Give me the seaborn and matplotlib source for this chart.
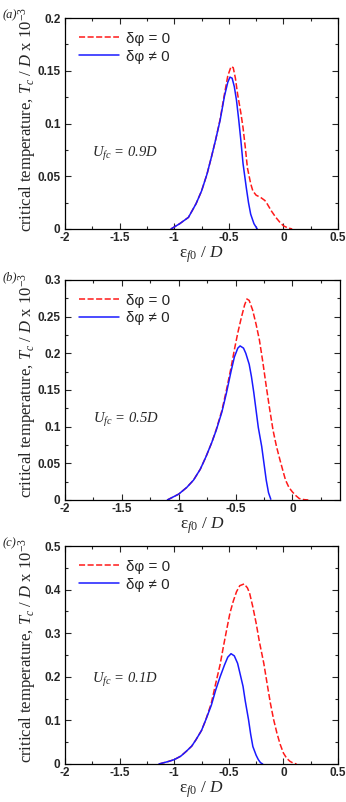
import pandas as pd
import seaborn as sns
import matplotlib.pyplot as plt
from matplotlib.ticker import MultipleLocator

# --- data (eps_f0 / D , Tc / D x 1e-3) ---
# panel (a), U_fc = 0.9D
a_blue_x = [-1.03, -0.95, -0.87, -0.80, -0.75, -0.70, -0.66, -0.62, -0.58, -0.54, -0.51, -0.49,
            -0.47, -0.45, -0.43, -0.41, -0.39, -0.37, -0.34, -0.32, -0.30, -0.27, -0.24]
a_blue_y = [0.0, 0.005, 0.011, 0.024, 0.036, 0.052, 0.068, 0.085, 0.103, 0.126, 0.139, 0.144,
            0.143, 0.135, 0.122, 0.104, 0.084, 0.062, 0.039, 0.025, 0.014, 0.005, 0.0]
a_red_x = [-1.03, -0.95, -0.87, -0.80, -0.75, -0.70, -0.66, -0.62, -0.58, -0.54, -0.51, -0.48,
           -0.46, -0.44, -0.42, -0.39, -0.37, -0.35, -0.33, -0.30, -0.28, -0.25, -0.21, -0.17,
           -0.15, -0.11, -0.07, -0.03, 0.0, 0.04, 0.08]
a_red_y = [0.0, 0.005, 0.011, 0.024, 0.036, 0.052, 0.068, 0.085, 0.104, 0.128, 0.145, 0.154,
           0.153, 0.143, 0.128, 0.110, 0.096, 0.078, 0.058, 0.043, 0.036, 0.032, 0.030, 0.027,
           0.024, 0.017, 0.011, 0.006, 0.003, 0.001, 0.0]

# panel (b), U_fc = 0.5D
b_blue_x = [-1.10, -1.00, -0.93, -0.87, -0.81, -0.76, -0.71, -0.67, -0.62, -0.58, -0.54, -0.51,
            -0.48, -0.46, -0.43, -0.41, -0.38, -0.36, -0.34, -0.32, -0.30, -0.27, -0.25, -0.23,
            -0.21, -0.19]
b_blue_y = [0.0, 0.008, 0.017, 0.027, 0.042, 0.059, 0.078, 0.095, 0.120, 0.146, 0.175, 0.195,
            0.207, 0.210, 0.207, 0.200, 0.185, 0.168, 0.147, 0.123, 0.099, 0.073, 0.050, 0.027,
            0.010, 0.001]
b_red_x = [-1.10, -1.00, -0.93, -0.87, -0.81, -0.76, -0.71, -0.67, -0.62, -0.58, -0.54, -0.51,
           -0.48, -0.45, -0.42, -0.40, -0.38, -0.35, -0.32, -0.29, -0.26, -0.23, -0.20, -0.17,
           -0.14, -0.11, -0.08, -0.06, -0.03, 0.0, 0.03, 0.06, 0.10, 0.14]
b_red_y = [0.0, 0.008, 0.017, 0.027, 0.042, 0.059, 0.078, 0.096, 0.122, 0.150, 0.180, 0.205,
           0.228, 0.248, 0.266, 0.274, 0.272, 0.259, 0.240, 0.218, 0.188, 0.155, 0.124, 0.095,
           0.073, 0.055, 0.038, 0.027, 0.017, 0.011, 0.006, 0.002, 0.0005, 0.0]

# panel (c), U_fc = 0.1D
c_blue_x = [-1.14, -1.05, -1.00, -0.94, -0.89, -0.84, -0.80, -0.75, -0.71, -0.66, -0.62, -0.58,
            -0.54, -0.51, -0.48, -0.45, -0.42, -0.40, -0.37, -0.35, -0.32, -0.30, -0.28, -0.25,
            -0.23, -0.21, -0.19]
c_blue_y = [0.0, 0.006, 0.010, 0.018, 0.029, 0.041, 0.056, 0.077, 0.102, 0.135, 0.170, 0.200,
            0.227, 0.245, 0.253, 0.248, 0.231, 0.210, 0.178, 0.145, 0.102, 0.068, 0.040, 0.020,
            0.010, 0.003, 0.0]
c_red_x = [-1.14, -1.05, -1.00, -0.94, -0.89, -0.84, -0.80, -0.75, -0.71, -0.66, -0.62, -0.58,
           -0.55, -0.52, -0.49, -0.46, -0.43, -0.40, -0.36, -0.33, -0.31, -0.28, -0.25, -0.22,
           -0.18, -0.15, -0.12, -0.09, -0.06, -0.03, 0.0, 0.03, 0.06, 0.09, 0.12]
c_red_y = [0.0, 0.006, 0.010, 0.018, 0.029, 0.041, 0.056, 0.077, 0.102, 0.140, 0.185, 0.228,
           0.269, 0.308, 0.346, 0.373, 0.395, 0.409, 0.413, 0.404, 0.392, 0.360, 0.323, 0.280,
           0.231, 0.185, 0.140, 0.102, 0.071, 0.045, 0.025, 0.013, 0.006, 0.002, 0.0]

panel_tags = ["(a)", "(b)", "(c)"]
u_labels = [r"$U_{fc}$ = 0.9$D$", r"$U_{fc}$ = 0.5$D$", r"$U_{fc}$ = 0.1$D$"]
y_max = [0.2, 0.3, 0.5]
y_major = [0.05, 0.05, 0.1]
x_max = [0.5, 0.42, 0.5]
u_pos = [0.355, 0.364, 0.385]

# axes boxes in figure fraction [left, bottom, width, height]
boxes = [[0.188, 0.7145, 0.789, 0.263],
         [0.188, 0.3766, 0.795, 0.2744],
         [0.188, 0.0474, 0.789, 0.2718]]

curves = [(a_red_x, a_red_y, a_blue_x, a_blue_y),
          (b_red_x, b_red_y, b_blue_x, b_blue_y),
          (c_red_x, c_red_y, c_blue_x, c_blue_y)]

lab0 = "δφ = 0"
lab1 = "δφ ≠ 0"

sns.set_style("ticks")
plt.rcParams['font.family'] = ['Liberation Serif', 'DejaVu Serif']
plt.rcParams['mathtext.fontset'] = 'custom'
plt.rcParams['mathtext.rm'] = 'Liberation Serif'
plt.rcParams['mathtext.it'] = 'Liberation Serif:italic'
plt.rcParams['xtick.direction'] = 'in'
plt.rcParams['ytick.direction'] = 'in'

fig = plt.figure(figsize=(3.46, 8.02), dpi=100)

for i in range(3):
    rx, ry, bx, by = curves[i]
    df = pd.concat([
        pd.DataFrame({"eps": rx, "tc": ry, "phase": lab0}),
        pd.DataFrame({"eps": bx, "tc": by, "phase": lab1}),
    ], ignore_index=True)

    ax = fig.add_axes(boxes[i])
    sns.lineplot(data=df, x="eps", y="tc", hue="phase", style="phase",
                 palette={lab0: "#ff1a1a", lab1: "#1a1aff"},
                 dashes={lab0: (4, 1.6), lab1: ""},
                 sort=False, estimator=None, linewidth=1.1, ax=ax)

    ax.set_xlim(-2, x_max[i])
    ax.set_ylim(0, y_max[i])
    ax.xaxis.set_major_locator(MultipleLocator(0.5))
    ax.xaxis.set_minor_locator(MultipleLocator(0.25))
    ax.yaxis.set_major_locator(MultipleLocator(y_major[i]))
    ax.yaxis.set_minor_locator(MultipleLocator(y_major[i] / 2))
    ax.tick_params(which='both', top=True, right=True, width=0.8)
    ax.tick_params(which='major', length=4)
    ax.tick_params(which='minor', length=2.5)
    for sp in ax.spines.values():
        sp.set_linewidth(0.9)
        sp.set_color("black")

    ax.set_xticklabels([f"{t:g}" for t in ax.get_xticks()],
                       family="Liberation Sans", fontweight="bold", fontsize=8.5)
    ax.set_yticklabels([f"{t:g}" for t in ax.get_yticks()],
                       family="Liberation Sans", fontweight="bold", fontsize=8.5)
    ax.tick_params(axis='x', pad=2.5)
    ax.tick_params(axis='y', pad=3.2)

    ax.set_xlabel(r"ε$_{f0}$ / $D$", fontsize=12.5, labelpad=0)
    ax.set_ylabel(r"critical temperature, $T_c$ / $D$ x 10$^{-3}$", fontsize=12)
    ax.yaxis.set_label_coords(-0.10, 0.52)

    leg = ax.legend(loc="upper left", frameon=False, handlelength=2.6, handletextpad=0.5,
                    borderaxespad=0.5, labelspacing=0.25,
                    prop={"family": "Liberation Sans", "size": 11})

    ax.text(0.10, u_pos[i], u_labels[i], transform=ax.transAxes, fontsize=10.5,
            style="italic", va="center")
    fig.text(0.006, boxes[i][1] + boxes[i][3] + 0.003, panel_tags[i], fontsize=9,
             style="italic", va="center")

fig.savefig("out.png", dpi=100)
